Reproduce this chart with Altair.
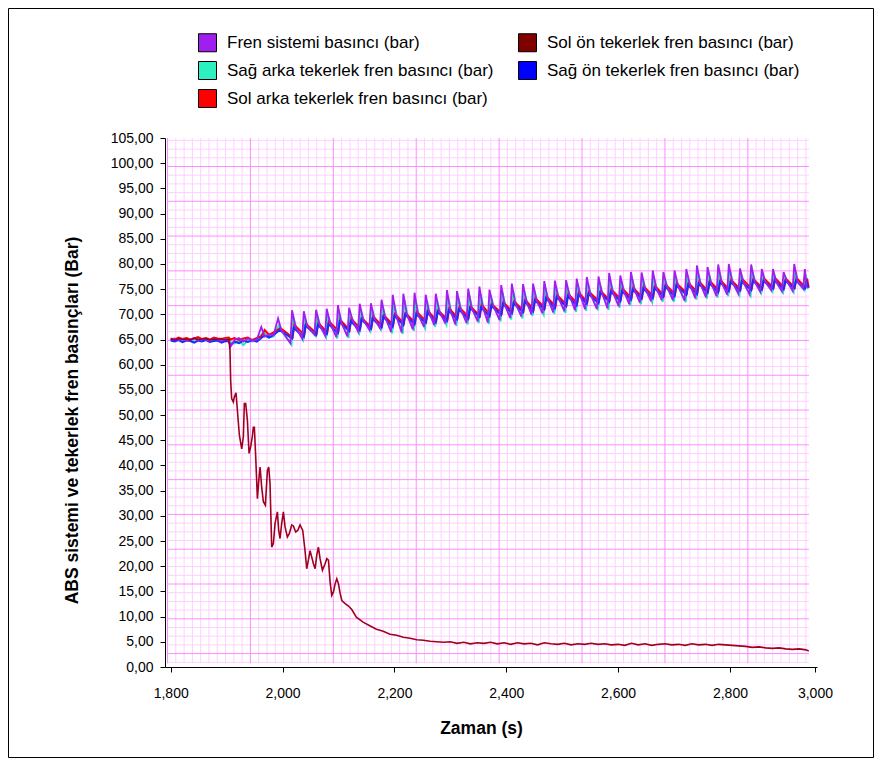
import altair as alt
import numpy as np
import pandas as pd

# ---------------- series names / colours ----------------
# order = legend order (column by column)
SERIES = [
    "Fren sistemi basıncı (bar)",
    "Sağ arka tekerlek fren basıncı (bar)",
    "Sol arka tekerlek fren basıncı (bar)",
    "Sol ön tekerlek fren basıncı (bar)",
    "Sağ ön tekerlek fren basıncı (bar)",
]
SWATCH_COLORS = ["#A01EF0", "#2CF0C0", "#FF0000", "#800000", "#0000FF"]
LINE_COLORS = ["#A01EF0", "#22E6C0", "#FF0000", "#A00020", "#1030FF"]

# ---------------- axes ----------------
X_TICKS = [1800, 2000, 2200, 2400, 2600, 2800, 2952]
X_TICK_LABELS = ["1,800", "2,000", "2,200", "2,400", "2,600", "2,800", "3,000"]
Y_TICKS = list(range(0, 106, 5))

# ---------------- data ----------------
# steady part (all at ~65 bar)
T_FLAT = [1800, 1807, 1814, 1821, 1828, 1835, 1842, 1849, 1856, 1863, 1870, 1877, 1884, 1891, 1898, 1904]
FREN_FLAT = [65.0, 65.2, 64.9, 65.1, 64.8, 65.0, 65.3, 64.9, 65.1, 65.0, 64.8, 65.2, 65.0, 64.7, 65.1, 64.9]
SAG_ARKA_FLAT = [64.9, 65.1, 65.0, 64.8, 65.2, 64.9, 65.0, 65.2, 64.8, 65.1, 64.9, 65.0, 64.7, 65.0, 64.9, 65.1]
SOL_ARKA_FLAT = [65.2, 65.0, 65.4, 65.1, 65.3, 65.0, 65.2, 65.5, 65.1, 65.3, 65.0, 65.4, 65.2, 65.1, 65.3, 65.4]
SAG_ON_FLAT = [64.8, 64.6, 64.9, 64.5, 64.8, 64.7, 64.4, 64.8, 64.6, 64.9, 64.5, 64.7, 64.8, 64.4, 64.7, 64.6]
SOL_ON_FLAT = [65.1, 64.9, 65.2, 65.0, 65.1, 64.9, 65.3, 65.0, 65.1, 65.2, 64.9, 65.1, 65.0, 65.2, 64.9, 65.0]

# transition before the ABS cycling starts
T_TRANS = [1907, 1914, 1922, 1930, 1938, 1946, 1954, 1962, 1968, 1976, 1984]
FREN_TRANS = [63.6, 64.9, 65.3, 64.6, 65.2, 64.8, 65.0, 67.5, 65.6, 66.0, 65.9]
SAG_ARKA_TRANS = [64.5, 64.2, 64.8, 63.9, 64.8, 64.6, 64.9, 66.0, 66.4, 65.4, 65.6]
SOL_ARKA_TRANS = [65.0, 65.3, 64.9, 65.2, 65.4, 64.9, 65.3, 65.6, 66.9, 65.9, 66.4]
SAG_ON_TRANS = [63.8, 64.6, 64.3, 64.8, 64.5, 64.9, 64.6, 65.3, 65.8, 65.4, 65.9]

# ABS pressure cycles: peak, shoulder and trough times
PEAK_T = [1992, 2017, 2038, 2060, 2079, 2099, 2119, 2138, 2158, 2177, 2197, 2216, 2236, 2256, 2274,
          2294, 2312, 2332, 2352, 2370, 2391, 2410, 2430, 2448, 2468, 2487, 2507, 2526, 2544, 2565,
          2584, 2604, 2623, 2642, 2662, 2681, 2701, 2722, 2741, 2760, 2779, 2798, 2818, 2838, 2857,
          2877, 2896, 2915, 2934]
MID_T = [1998, 2023, 2044, 2066, 2085, 2105, 2125, 2144, 2164, 2183, 2203, 2222, 2242, 2262, 2280,
         2300, 2318, 2338, 2358, 2376, 2397, 2416, 2436, 2454, 2474, 2493, 2513, 2532, 2550, 2571,
         2590, 2610, 2629, 2648, 2668, 2687, 2707, 2728, 2747, 2766, 2785, 2804, 2824, 2844, 2863,
         2883, 2902, 2921]
LOW_T = [2014, 2035, 2057, 2076, 2096, 2116, 2135, 2155, 2174, 2194, 2213, 2233, 2253, 2271, 2291,
         2309, 2329, 2349, 2367, 2388, 2407, 2427, 2445, 2465, 2484, 2504, 2523, 2541, 2562, 2581,
         2601, 2620, 2639, 2659, 2678, 2698, 2719, 2738, 2757, 2776, 2795, 2815, 2835, 2854, 2874,
         2893, 2912, 2931, 2937]

FREN_HI = [69.2, 70.8, 70.6, 70.9, 71.1, 71.8, 71.3, 72.1, 72.2, 72.9, 73.9, 74.1, 74.3, 73.9, 74.1,
           74.8, 74.6, 75.1, 75.5, 74.9, 75.8, 76.1, 76.0, 76.1, 76.6, 76.7, 76.8, 77.1, 77.4, 77.5,
           78.2, 77.7, 78.4, 78.3, 78.7, 78.4, 78.7, 79.0, 79.7, 79.4, 79.9, 80.0, 79.1, 79.9, 79.0,
           79.0, 78.4, 80.0, 79.0]
FREN_MID = [66.8, 67.6, 67.7, 68.0, 68.3, 68.4, 68.9, 69.0, 69.2, 69.6, 69.8, 70.1, 70.1, 70.4, 70.7,
            70.8, 71.2, 71.3, 71.5, 71.9, 72.0, 72.3, 72.6, 72.8, 73.2, 73.4, 73.8, 73.9, 74.2, 74.3,
            74.6, 74.7, 75.0, 75.2, 75.3, 75.6, 75.7, 76.0, 76.1, 76.3, 76.4, 76.5, 76.4, 76.6, 76.5,
            76.4, 76.6, 76.5]
FREN_LO = [64.3, 65.2, 66.0, 65.8, 65.5, 65.6, 66.6, 67.0, 67.3, 66.5, 66.4, 67.0, 67.5, 67.9, 68.2,
           68.0, 68.3, 68.6, 68.4, 68.9, 69.3, 69.6, 70.0, 70.2, 70.4, 70.6, 70.8, 71.0, 71.1, 71.2,
           71.6, 72.0, 72.3, 72.6, 72.8, 72.8, 72.7, 73.2, 73.4, 73.6, 73.9, 74.1, 74.0, 74.5, 74.8,
           74.6, 74.7, 75.1, 75.3]

SAG_ARKA_HI = [68.0, 69.6, 69.2, 69.8, 69.8, 70.4, 70.1, 70.8, 71.0, 71.5, 72.6, 72.9, 72.9, 72.7, 72.8,
               73.5, 73.4, 73.8, 74.1, 73.8, 74.5, 74.8, 74.7, 74.9, 75.2, 75.5, 75.4, 75.9, 76.1, 76.2,
               76.8, 76.5, 77.0, 77.1, 77.3, 77.2, 77.4, 77.7, 78.3, 78.2, 78.5, 78.7, 77.9, 78.6, 77.9,
               77.8, 77.4, 78.6, 77.9]
SAG_ARKA_MID = [66.4, 67.2, 67.3, 67.6, 67.9, 68.0, 68.5, 68.6, 68.8, 69.2, 69.4, 69.7, 69.7, 70.0, 70.3,
                70.4, 70.8, 70.9, 71.1, 71.5, 71.6, 71.9, 72.2, 72.4, 72.8, 73.0, 73.4, 73.5, 73.8, 73.9,
                74.2, 74.3, 74.6, 74.8, 74.9, 75.2, 75.3, 75.6, 75.7, 75.9, 76.0, 76.1, 76.0, 76.2, 76.1,
                76.0, 76.2, 76.1]
SAG_ARKA_LO = [64.0, 64.9, 65.7, 65.4, 65.2, 65.3, 66.3, 66.6, 67.0, 66.2, 66.1, 66.7, 67.2, 67.5, 67.9,
               67.7, 68.0, 68.3, 68.1, 68.6, 69.0, 69.2, 69.7, 69.9, 70.1, 70.3, 70.5, 70.7, 70.8, 70.9,
               71.3, 71.7, 72.0, 72.3, 72.5, 72.5, 72.4, 72.9, 73.1, 73.3, 73.6, 73.8, 73.7, 74.2, 74.5,
               74.3, 74.4, 74.8, 75.0]

SAG_ON_HI = [66.9, 67.3, 67.8, 67.9, 68.1, 68.5, 68.6, 69.0, 69.1, 69.5, 69.7, 70.0, 70.0, 70.4, 70.5,
             70.8, 71.0, 71.3, 71.4, 71.7, 72.1, 72.2, 72.6, 72.8, 73.2, 73.4, 73.6, 73.9, 74.1, 74.3,
             74.5, 74.6, 74.9, 75.1, 75.2, 75.5, 75.7, 75.8, 76.1, 76.2, 76.4, 76.4, 76.5, 76.7, 76.6,
             76.8, 76.6, 76.7, 76.7]
SAG_ON_LO = [65.2, 65.5, 65.9, 66.1, 66.3, 66.7, 66.8, 67.1, 67.4, 67.5, 67.9, 68.0, 68.3, 68.4, 68.7,
             69.0, 69.1, 69.5, 69.6, 69.9, 70.2, 70.4, 70.6, 71.0, 71.2, 71.6, 71.8, 72.1, 72.2, 72.5,
             72.6, 72.9, 73.1, 73.2, 73.5, 73.6, 73.9, 74.0, 74.3, 74.4, 74.6, 74.7, 74.8, 74.9, 75.1,
             75.0, 75.2, 75.1, 75.3]

SOL_ARKA_HI = [67.3, 67.9, 68.1, 68.3, 68.6, 68.9, 69.1, 69.2, 69.6, 69.8, 70.1, 70.2, 70.5, 70.7, 70.8,
               71.2, 71.4, 71.6, 71.9, 72.0, 72.4, 72.6, 72.9, 73.2, 73.5, 73.8, 74.0, 74.3, 74.5, 74.6,
               74.9, 75.1, 75.3, 75.5, 75.6, 75.9, 76.1, 76.2, 76.5, 76.6, 76.8, 76.8, 77.0, 77.0, 77.1,
               77.2, 77.1, 77.2, 77.1]
SOL_ARKA_LO = [65.4, 65.9, 66.2, 66.4, 66.7, 66.9, 67.2, 67.4, 67.7, 67.9, 68.2, 68.4, 68.6, 68.8, 69.0,
               69.3, 69.5, 69.7, 70.0, 70.2, 70.5, 70.7, 71.0, 71.3, 71.6, 71.9, 72.2, 72.4, 72.6, 72.8,
               73.0, 73.2, 73.4, 73.6, 73.8, 74.0, 74.2, 74.4, 74.6, 74.8, 74.9, 75.0, 75.1, 75.2, 75.3,
               75.3, 75.3, 75.4, 75.3]

# phase lag of each wheel trace behind the system pressure (time units)
LAG = {"fren": 0, "sag_arka": 2, "sag_on": 3, "sol_arka": 4}

# left front wheel: pressure dump
SOL_ON_DROP_T = [1906.0, 1907.2, 1909.0, 1912.0, 1913.8, 1916.8, 1919.2, 1922.8, 1927.0, 1929.9,
                 1931.7, 1934.1, 1937.1, 1940.1, 1943.0, 1946.0, 1947.8, 1949.6, 1952.0, 1955.0,
                 1958.0, 1959.8, 1962.7, 1965.7, 1969.3, 1972.9, 1975.3, 1977.6, 1980.6, 1983.6,
                 1986.6, 1990.8, 1993.1, 1995.5, 1998.5, 2001.5, 2004.5, 2008.6, 2012.2, 2016.4,
                 2019.4, 2023.5, 2027.1, 2031.3, 2036.1, 2040.2, 2043.2, 2046.2, 2049.2, 2052.2,
                 2055.2, 2058.2, 2061.2, 2064.1, 2067.1, 2071.3, 2076.1, 2079.1, 2082.1, 2085.0,
                 2088.0, 2091.0, 2094.0, 2097.0, 2100.0, 2103.0, 2106.0, 2111.9, 2117.9, 2123.8]
SOL_ON_DROP = [62.9, 56.9, 53.3, 52.6, 53.6, 54.4, 51.0, 46.0, 43.3, 45.7,
               52.3, 52.3, 49.0, 42.4, 43.7, 45.8, 47.6, 47.6, 41.7, 33.4,
               37.7, 39.7, 35.7, 32.8, 32.1, 39.0, 39.7, 36.4, 23.8, 24.5,
               28.5, 30.8, 27.1, 25.5, 28.5, 30.8, 27.8, 25.8, 26.5, 28.2,
               28.0, 26.8, 27.1, 28.2, 27.1, 23.1, 19.5, 21.2, 23.1, 21.8,
               20.5, 19.5, 22.2, 23.8, 21.5, 19.2, 20.5, 21.5, 21.2, 16.9,
               14.2, 14.9, 16.5, 17.5, 16.5, 14.6, 13.2, 12.6, 12.1, 11.4]
SOL_ON_TAIL_T = [2132, 2144, 2156, 2168, 2180, 2192, 2204, 2216, 2228, 2240, 2252, 2264, 2276, 2288,
                 2300, 2312, 2324, 2336, 2348, 2360, 2372, 2384, 2396, 2408, 2420, 2432, 2444, 2456,
                 2468, 2480, 2492, 2504, 2516, 2528, 2540, 2552, 2564, 2576, 2588, 2600, 2612, 2624,
                 2636, 2648, 2660, 2672, 2684, 2696, 2708, 2720, 2732, 2744, 2756, 2768, 2780, 2792,
                 2804, 2816, 2828, 2840, 2852, 2864, 2876, 2888, 2900, 2912, 2924, 2936, 2941]
SOL_ON_TAIL = [9.9, 8.9, 8.2, 7.5, 7.1, 6.5, 6.3, 5.9, 5.7, 5.4, 5.3, 5.1, 5.0, 4.9,
               5.0, 4.7, 4.9, 4.6, 4.8, 4.7, 4.9, 4.6, 4.8, 4.5, 4.8, 4.6, 4.7, 4.4,
               4.8, 4.6, 4.5, 4.7, 4.4, 4.6, 4.5, 4.7, 4.5, 4.6, 4.4, 4.5, 4.3, 4.7,
               4.4, 4.6, 4.3, 4.5, 4.6, 4.4, 4.5, 4.3, 4.6, 4.4, 4.5, 4.3, 4.5, 4.4,
               4.3, 4.2, 4.1, 3.9, 4.0, 3.8, 3.7, 3.8, 3.6, 3.5, 3.6, 3.4, 3.2]


# ---------------- assemble tables ----------------
def cycles(hi, lo, lag, mid=None):
    ts, vs = [], []
    for i in range(len(PEAK_T)):
        ts.append(PEAK_T[i] + lag)
        vs.append(hi[i])
        if mid is not None and i < len(mid):
            ts.append(MID_T[i] + lag)
            vs.append(mid[i])
        ts.append(LOW_T[i] + lag)
        vs.append(lo[i])
    return ts, vs


def frame(name, ts, vs):
    return pd.DataFrame({"t": ts, "v": vs, "series": name})


ft, fv = cycles(FREN_HI, FREN_LO, LAG["fren"], FREN_MID)
at, av = cycles(SAG_ARKA_HI, SAG_ARKA_LO, LAG["sag_arka"], SAG_ARKA_MID)
ot, ov = cycles(SAG_ON_HI, SAG_ON_LO, LAG["sag_on"])
rt, rv = cycles(SOL_ARKA_HI, SOL_ARKA_LO, LAG["sol_arka"])

FREN, SAG_ARKA, SOL_ARKA, SOL_ON, SAG_ON = SERIES
data = {
    FREN: frame(FREN, T_FLAT + T_TRANS + ft, FREN_FLAT + FREN_TRANS + fv),
    SAG_ARKA: frame(SAG_ARKA, T_FLAT + T_TRANS + at, SAG_ARKA_FLAT + SAG_ARKA_TRANS + av),
    SAG_ON: frame(SAG_ON, T_FLAT + T_TRANS + ot, SAG_ON_FLAT + SAG_ON_TRANS + ov),
    SOL_ARKA: frame(SOL_ARKA, T_FLAT + T_TRANS + rt, SOL_ARKA_FLAT + SOL_ARKA_TRANS + rv),
    SOL_ON: frame(SOL_ON, T_FLAT + SOL_ON_DROP_T + SOL_ON_TAIL_T, SOL_ON_FLAT + SOL_ON_DROP + SOL_ON_TAIL),
}

# ---------------- scales ----------------
xs = alt.Scale(domain=[1789.8, 2955.7], nice=False, zero=False)
ys = alt.Scale(domain=[0, 105], nice=False)
fill_scale = alt.Scale(domain=SERIES, range=SWATCH_COLORS)

FONT = "Liberation Sans, Arial, sans-serif"

x_label_expr = " : ".join(
    f"datum.value == {v} ? '{l}'" for v, l in zip(X_TICKS, X_TICK_LABELS)
) + " : ''"

x_axis = alt.Axis(
    values=X_TICKS, labelExpr=x_label_expr, title="Zaman (s)", grid=False,
    labelFont=FONT, labelFontSize=14, labelColor="black", labelPadding=14,
    labelFlush=False, labelOverlap=False,
    tickSize=5, tickColor="black", domainColor="black",
    titleFont=FONT, titleFontSize=17.5, titleFontWeight="bold", titleColor="black",
    titleX=316, titleY=66, titleAlign="center", titleBaseline="alphabetic",
)
y_axis = alt.Axis(
    values=Y_TICKS, labelExpr="replace(format(datum.value, '.2f'), '.', ',')",
    title="ABS sistemi ve tekerlek fren basınçları (Bar)", grid=False,
    labelFont=FONT, labelFontSize=14, labelColor="black", labelPadding=7,
    labelFlush=False, labelOverlap=False,
    tickSize=5, tickColor="black", domainColor="black",
    titleFont=FONT, titleFontSize=17.5, titleFontWeight="bold", titleColor="black",
    titleAngle=270, titleX=-88, titleY=282, titleAlign="center", titleBaseline="alphabetic",
)

# ---------------- background paper grid ----------------
kv = np.arange(78)
grid_v = pd.DataFrame({"x": 1794.3 + 14.825 * kv, "y0": 0.73, "y1": 105.0, "major": kv % 10 == 0})
kh = np.arange(-1, 60)
grid_h = pd.DataFrame({"y": 2.66 + 1.7265 * kh, "x0": 1795.2, "x1": 2941.4, "major": kh % 4 == 0})

MINOR_C = "#FFCFFF"
MAJOR_C = "#FF8CFF"

layers = []
for is_major, col in [(False, MINOR_C), (True, MAJOR_C)]:
    layers.append(
        alt.Chart(grid_v[grid_v.major == is_major]).mark_rule(color=col, strokeWidth=1).encode(
            x=alt.X("x:Q", scale=xs, axis=x_axis),
            y=alt.Y("y0:Q", scale=ys, axis=y_axis),
            y2="y1:Q",
        )
    )
    layers.append(
        alt.Chart(grid_h[grid_h.major == is_major]).mark_rule(color=col, strokeWidth=1).encode(
            y=alt.Y("y:Q", scale=ys, axis=y_axis),
            x=alt.X("x0:Q", scale=xs, axis=x_axis),
            x2="x1:Q",
        )
    )

# ---------------- lines (draw order bottom -> top) ----------------
draw_order = [SAG_ARKA, SOL_ARKA, SAG_ON, FREN, SOL_ON]
widths = {SAG_ARKA: 1.9, SOL_ARKA: 2.0, SAG_ON: 2.0, FREN: 1.8, SOL_ON: 1.6}
for name in draw_order:
    layers.append(
        alt.Chart(data[name]).mark_line(strokeWidth=widths[name], color=LINE_COLORS[SERIES.index(name)]).encode(
            x=alt.X("t:Q", scale=xs, axis=x_axis),
            y=alt.Y("v:Q", scale=ys, axis=y_axis),
        )
    )

# ---------------- legend (filled squares) ----------------
legend_df = pd.DataFrame({"series": SERIES, "t": 1800.0, "v": 65.0})
layers.append(
    alt.Chart(legend_df).mark_square(filled=True, opacity=0, size=1).encode(
        x=alt.X("t:Q", scale=xs, axis=x_axis),
        y=alt.Y("v:Q", scale=ys, axis=y_axis),
        fill=alt.Fill(
            "series:N", scale=fill_scale,
            legend=alt.Legend(
                title=None, orient="none", legendX=33, legendY=-105, columns=2,
                symbolType="square", symbolSize=324, symbolStrokeColor="black",
                symbolStrokeWidth=1, symbolOpacity=1,
                labelFont=FONT, labelFontSize=17, labelColor="black", labelLimit=500,
                labelOffset=10, rowPadding=5, columnPadding=22, padding=0,
            ),
        ),
    )
)

# ---------------- outer frame ----------------
layers.append(
    alt.Chart(pd.DataFrame({"k": [0]})).mark_rect(fillOpacity=0, stroke="black", strokeWidth=1).encode(
        x=alt.value(-156.5), x2=alt.value(708.5), y=alt.value(-129.5), y2=alt.value(619.5)
    )
)

chart = (
    alt.layer(*layers)
    .properties(
        width=652, height=529,
        autosize=alt.AutoSizeParams(type="none"),
        padding={"left": 157, "top": 130, "right": 57, "bottom": 91},
        background="white",
    )
    .configure_view(strokeWidth=0)
)

chart.save("out.html", embed_options={"renderer": "svg", "actions": False})
